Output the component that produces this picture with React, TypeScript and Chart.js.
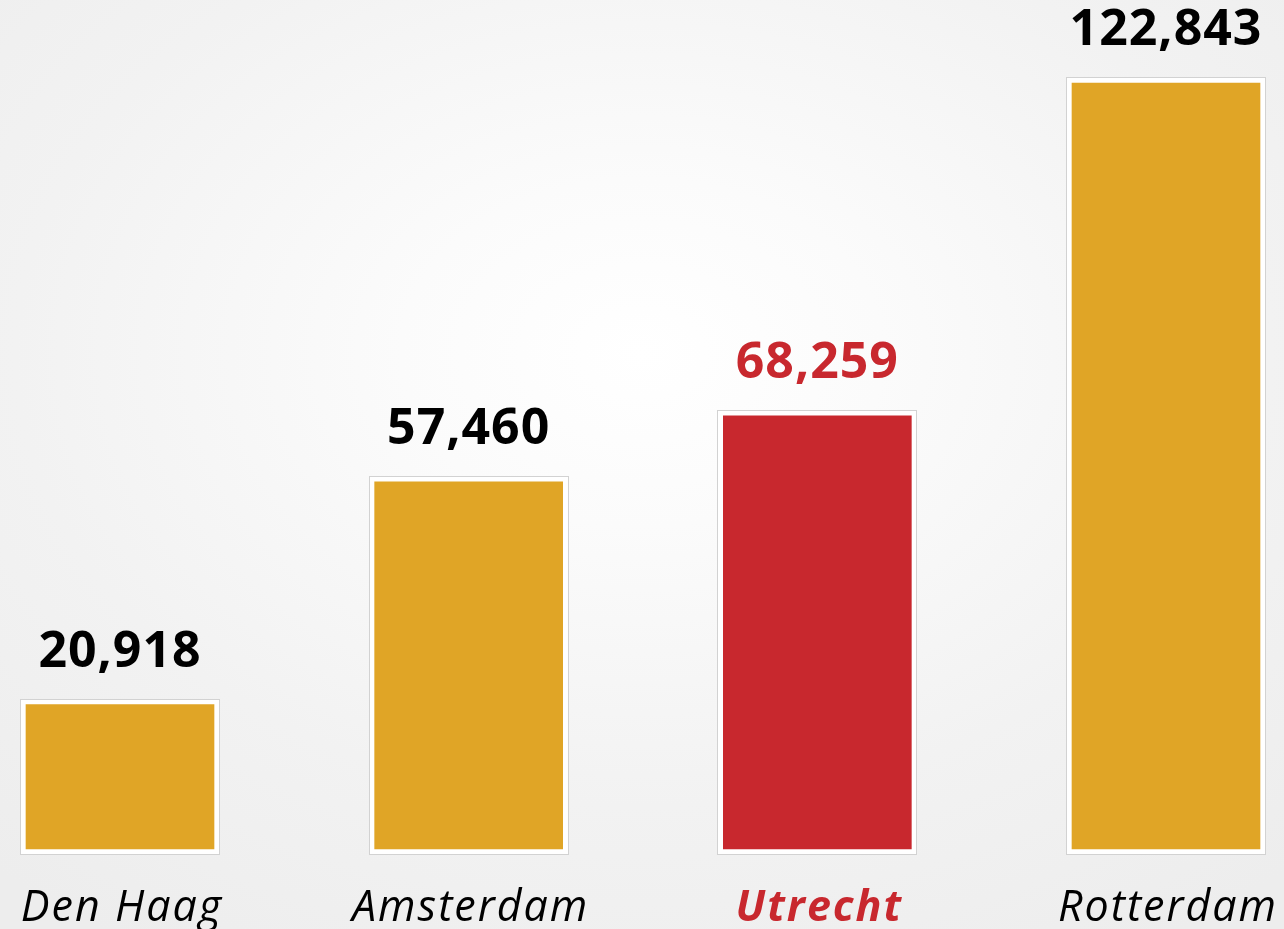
import React, { useEffect, useRef } from "react";
import { Chart, registerables } from "chart.js";

Chart.register(...registerables);

const categories: string[] = ["Den Haag", "Amsterdam", "Utrecht", "Rotterdam"];
const values: number[] = [20918, 57460, 68259, 122843];
const valueLabels: string[] = ["20,918", "57,460", "68,259", "122,843"];
const highlight: boolean[] = [false, false, true, false];

const GOLD = "#e0a526";
const RED = "#c8282e";
const AXIS_MIN = -4400;

const overlayPlugin = {
  id: "overlay",
  afterDatasetsDraw(chart: any) {
    const ctx = chart.ctx;
    const meta = chart.getDatasetMeta(0);
    ctx.save();
    meta.data.forEach((bar: any, i: number) => {
      const p = bar.getProps(["x", "y", "base", "width"], true);
      const left = p.x - p.width / 2;
      const top = Math.min(p.y, p.base);
      const h = Math.abs(p.base - p.y);
      // outline
      ctx.strokeStyle = "#d2d2d2";
      ctx.lineWidth = 1;
      ctx.strokeRect(Math.round(left) - 0.5, Math.round(top) - 0.5, Math.round(p.width) + 1, Math.round(h) + 1);
      // value label
      ctx.fillStyle = highlight[i] ? RED : "#000000";
      ctx.font = "bold 50px 'Open Sans'";
      ctx.textAlign = "center";
      ctx.textBaseline = "alphabetic";
      (ctx as any).letterSpacing = "1px";
      ctx.fillText(valueLabels[i], p.x, top - 33);
      // category label
      ctx.fillStyle = highlight[i] ? RED : "#000000";
      ctx.font = (highlight[i] ? "italic bold " : "italic ") + "43px 'Open Sans'";
      (ctx as any).letterSpacing = "2px";
      ctx.fillText(categories[i], p.x + 2, 921);
      (ctx as any).letterSpacing = "0px";
    });
    ctx.restore();
  },
};

export default function App() {
  const canvasRef = useRef<HTMLCanvasElement | null>(null);

  useEffect(() => {
    if (!canvasRef.current) return;
    const chart = new Chart(canvasRef.current, {
      type: "bar",
      data: {
        labels: categories,
        datasets: [
          {
            data: values,
            base: AXIS_MIN,
            backgroundColor: highlight.map((h) => (h ? RED : GOLD)),
            borderColor: "#ffffff",
            borderWidth: 5,
            borderSkipped: false,
            barThickness: 198,
            clip: false,
          } as any,
        ],
      },
      options: {
        animation: false,
        responsive: false,
        maintainAspectRatio: false,
        layout: { padding: { left: 120, right: 118, top: 78, bottom: 75 } },
        plugins: {
          legend: { display: false },
          tooltip: { enabled: false },
          title: { display: false },
        },
        scales: {
          x: { display: false, offset: false, grid: { display: false } },
          y: { display: false, min: AXIS_MIN, max: 122843, grid: { display: false } },
        },
      },
      plugins: [overlayPlugin],
    });
    return () => chart.destroy();
  }, []);

  return (
    <div
      style={{
        position: "fixed",
        left: 0,
        top: 0,
        width: 1284,
        height: 929,
        background:
          "radial-gradient(ellipse 75% 75% at 50% 38%, #ffffff 0%, #fbfbfb 25%, #f2f2f2 65%, #ededed 100%)",
      }}
    >
      <canvas ref={canvasRef} width={1284} height={929} style={{ display: "block" }} />
    </div>
  );
}
